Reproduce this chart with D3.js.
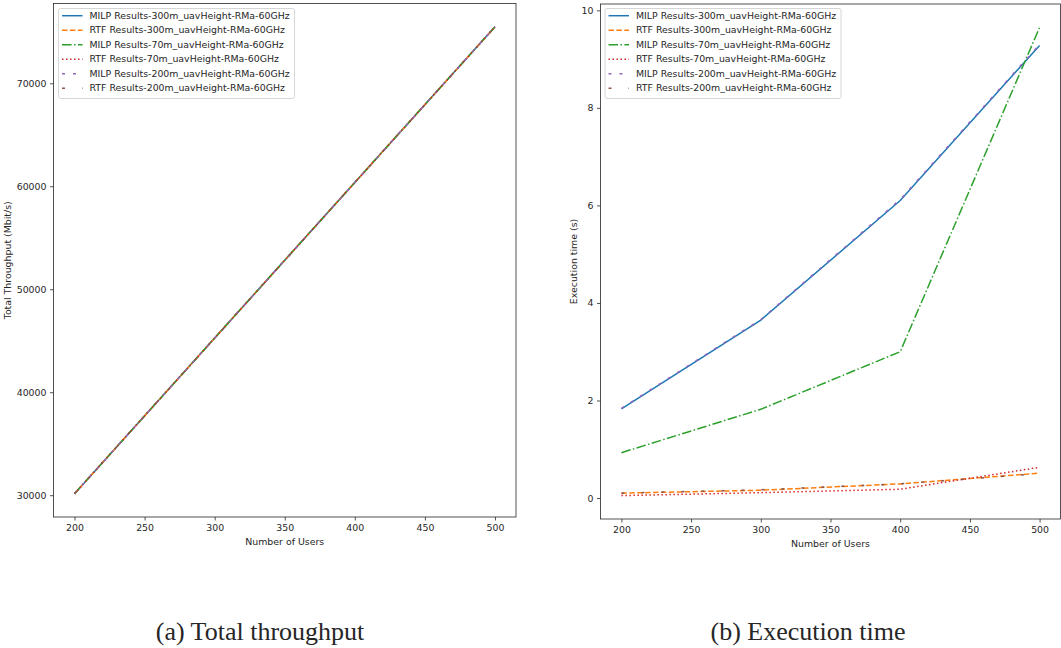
<!DOCTYPE html>
<html>
<head>
<meta charset="utf-8">
<script src="https://d3js.org/d3.v7.min.js"></script>
<style>
  body { margin: 0; background: #fff; }
  svg { display: block; }
  text { font-family: "DejaVu Sans", sans-serif; fill: #262626; }
</style>
</head>
<body>
<div id="chart"></div>
<script>
// number of users on the x axis
const users = [200, 300, 400, 500];

const seriesLabels = [
  "MILP Results-300m_uavHeight-RMa-60GHz",
  "RTF Results-300m_uavHeight-RMa-60GHz",
  "MILP Results-70m_uavHeight-RMa-60GHz",
  "RTF Results-70m_uavHeight-RMa-60GHz",
  "MILP Results-200m_uavHeight-RMa-60GHz",
  "RTF Results-200m_uavHeight-RMa-60GHz"
];

// (a) total throughput, Mbit/s -- all six runs overlap
const thrMilp300 = [30150, 45260, 60370, 75480];
const thrRtf300  = [30150, 45260, 60370, 75480];
const thrMilp70  = [30150, 45260, 60370, 75480];
const thrRtf70   = [30150, 45260, 60370, 75480];
const thrMilp200 = [30150, 45260, 60370, 75480];
const thrRtf200  = [30150, 45260, 60370, 75480];

// (b) execution time, s
const timeMilp300 = [1.83, 3.65, 6.10, 9.28];
const timeRtf300  = [0.10, 0.16, 0.29, 0.51];
const timeMilp70  = [0.93, 1.82, 3.00, 9.65];
const timeRtf70   = [0.05, 0.11, 0.18, 0.63];
const timeMilp200 = [1.84, 3.66, 6.12, 9.30];
const timeRtf200  = [0.10, 0.17, 0.29, 0.50];

const xTicks = [200, 250, 300, 350, 400, 450, 500];
const thrTicks = [30000, 40000, 50000, 60000, 70000];
const timeTicks = [0, 2, 4, 6, 8, 10];

const colors = ["#1f77b4", "#ff7f0e", "#2ca02c", "#d62728", "#9467bd", "#8c564b"];
const dashes = ["none", "5.5,2.4", "9.6,2.4,1.5,2.4", "1.5,2.5", "3,8", "3,17"];

const width = 1061, height = 648;
const fontSize = 9.4;

const svg = d3.select("#chart").append("svg")
  .attr("width", width)
  .attr("height", height);

// matplotlib-like 5% margins
const padded = (lo, hi) => {
  const m = (hi - lo) * 0.05;
  return [lo - m, hi + m];
};

const drawPanel = (opts) => {
  const { box, series, yTicks, yLabel, caption, captionX, legendX, legendTextX } = opts;
  const allY = series.flat();

  const x = d3.scaleLinear()
    .domain(padded(d3.min(users), d3.max(users)))
    .range([box.left, box.right]);

  const y = d3.scaleLinear()
    .domain(padded(d3.min(allY), d3.max(allY)))
    .range([box.bottom, box.top]);

  const g = svg.append("g");

  const line = d3.line()
    .x((d, i) => x(users[i]))
    .y(d => y(d));

  g.append("g")
    .selectAll("path")
    .data(series)
    .join("path")
      .attr("d", d => line(d))
      .attr("fill", "none")
      .attr("stroke", (d, i) => colors[i])
      .attr("stroke-width", 1.5)
      .attr("stroke-dasharray", (d, i) => dashes[i]);

  const xAxis = g.append("g")
    .attr("transform", `translate(0, ${box.bottom})`)
    .call(d3.axisBottom(x).tickValues(xTicks).tickSize(3.5).tickPadding(3.5));

  const yAxis = g.append("g")
    .attr("transform", `translate(${box.left}, 0)`)
    .call(d3.axisLeft(y).tickValues(yTicks).tickFormat(d3.format("d")).tickSize(3.5).tickPadding(3.5));

  [xAxis, yAxis].forEach(a => {
    a.select(".domain").remove();
    a.selectAll(".tick line").attr("stroke", "#262626").attr("stroke-width", 0.8);
    a.selectAll(".tick text").attr("font-size", fontSize).attr("font-family", "DejaVu Sans").attr("fill", "#262626");
  });

  // frame
  g.append("rect")
    .attr("x", box.left)
    .attr("y", box.top)
    .attr("width", box.right - box.left)
    .attr("height", box.bottom - box.top)
    .attr("fill", "none")
    .attr("stroke", "#262626")
    .attr("stroke-width", 0.8);

  g.append("text")
    .attr("x", (box.left + box.right) / 2)
    .attr("y", box.bottom + 28)
    .attr("text-anchor", "middle")
    .attr("font-size", fontSize)
    .text("Number of Users");

  g.append("text")
    .attr("transform", `translate(${opts.yLabelX}, ${(box.top + box.bottom) / 2}) rotate(-90)`)
    .attr("text-anchor", "middle")
    .attr("font-size", fontSize)
    .text(yLabel);

  // legend
  const lg = g.append("g");
  lg.append("rect")
    .attr("x", legendX)
    .attr("y", 8.5)
    .attr("width", 236)
    .attr("height", 90)
    .attr("rx", 2)
    .attr("fill", "#fff")
    .attr("fill-opacity", 0.8)
    .attr("stroke", "#cccccc")
    .attr("stroke-width", 0.8);

  const rows = lg.selectAll("g.row")
    .data(seriesLabels)
    .join("g")
      .attr("class", "row")
      .attr("transform", (d, i) => `translate(0, ${15.7 + i * 14.5})`);

  rows.append("line")
    .attr("x1", legendX + 3.5)
    .attr("x2", legendX + 24)
    .attr("stroke", (d, i) => colors[i])
    .attr("stroke-width", 1.5)
    .attr("stroke-dasharray", (d, i) => dashes[i]);

  rows.append("text")
    .attr("x", legendTextX)
    .attr("dy", "0.35em")
    .attr("font-size", fontSize)
    .text(d => d);

  svg.append("text")
    .attr("x", captionX)
    .attr("y", 640)
    .attr("text-anchor", "middle")
    .attr("font-family", "Liberation Serif, serif")
    .style("font-family", "'Liberation Serif', serif")
    .attr("font-size", 26)
    .attr("fill", "#111")
    .text(caption);
};

drawPanel({
  box: { left: 53.5, right: 516, top: 3.5, bottom: 517 },
  series: [thrMilp300, thrRtf300, thrMilp70, thrRtf70, thrMilp200, thrRtf200],
  yTicks: thrTicks,
  yLabel: "Total Throughput (Mbit/s)",
  yLabelX: 11,
  caption: "(a) Total throughput",
  captionX: 260,
  legendX: 58.5,
  legendTextX: 89.5
});

drawPanel({
  box: { left: 600.5, right: 1060.5, top: 4, bottom: 519 },
  series: [timeMilp300, timeRtf300, timeMilp70, timeRtf70, timeMilp200, timeRtf200],
  yTicks: timeTicks,
  yLabel: "Execution time (s)",
  yLabelX: 577,
  caption: "(b) Execution time",
  captionX: 808,
  legendX: 605,
  legendTextX: 636
});
</script>
</body>
</html>
